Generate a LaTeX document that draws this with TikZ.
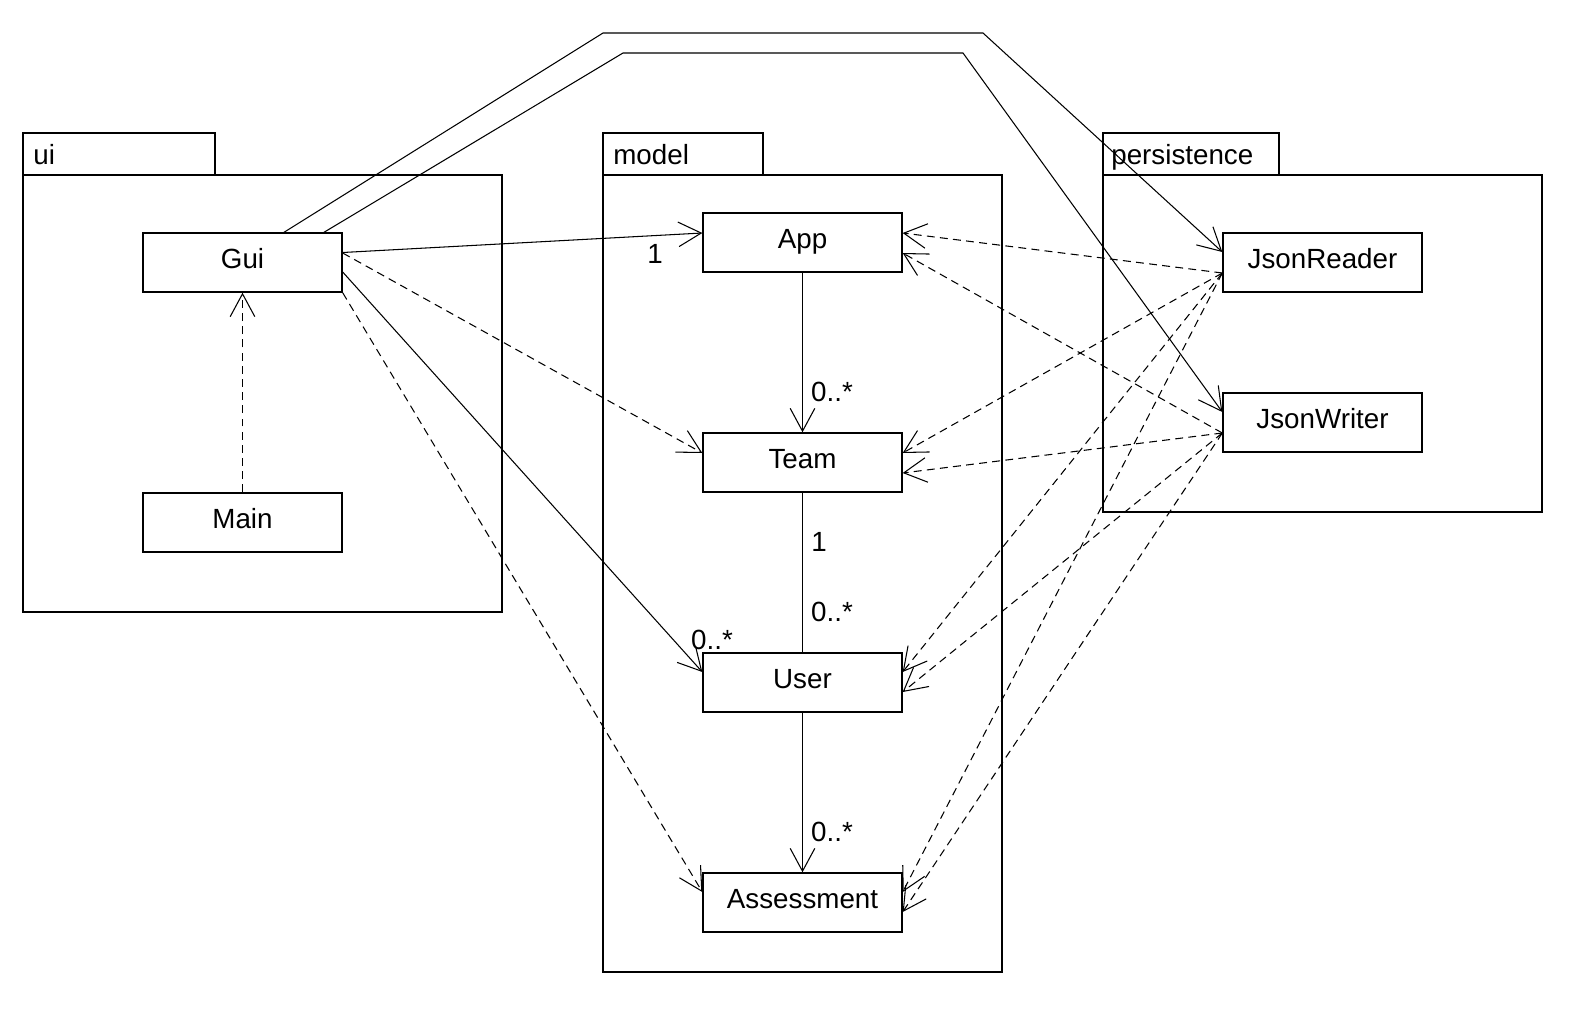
\documentclass[tikz,border=0pt]{standalone}
\usepackage{fontspec}
\setmainfont{Liberation Sans}
\usetikzlibrary{arrows.meta,calc}

\begin{document}
\begin{tikzpicture}[x=0.02cm,y=-0.02cm,
  classe/.style={draw,line width=0.8pt,minimum width=3.98cm,minimum height=1.18cm,inner sep=0pt,text height=11.3pt,text depth=4.6pt,font=\fontsize{15.8}{19}\selectfont},
  paquet/.style={line width=0.8pt},
  titre/.style={anchor=base west,inner sep=0pt,font=\fontsize{15.8}{19}\selectfont},
  mult/.style={inner sep=0pt,font=\fontsize{15.8}{19}\selectfont},
  assoc/.style={line width=0.6pt,-{Straight Barb[length=13pt,width=14pt]}},
  dep/.style={assoc,dash pattern=on 4.5pt off 3pt}]
\useasboundingbox (0,0) rectangle (1576,1011);
% packages
\draw [paquet] (23,133) rectangle (215,175);
\draw [paquet] (23,175) rectangle (502,612);
\node [titre] (ui) at (33,164) {ui};
\draw [paquet] (603,133) rectangle (763,175);
\draw [paquet] (603,175) rectangle (1002,972);
\node [titre] (model) at (613,164) {model};
\draw [paquet] (1103,133) rectangle (1279,175);
\draw [paquet] (1103,175) rectangle (1542,512);
\node [titre] (persistence) at (1111,164) {persistence};
% classes
\node [classe] (Gui) at (242.5,262.5) {Gui};
\node [classe] (Main) at (242.5,522.5) {Main};
\node [classe] (App) at (802.5,242.5) {App};
\node [classe] (Team) at (802.5,462.5) {Team};
\node [classe] (User) at (802.5,682.5) {User};
\node [classe] (Assessment) at (802.5,902.5) {Assessment};
\node [classe] (JsonReader) at (1322.5,262.5) {JsonReader};
\node [classe] (JsonWriter) at (1322.5,422.5) {JsonWriter};
% ui
\draw [dep] (Main.north) -- (Gui.south);
\draw [assoc] ($(Gui.east)+(0,-10)$) -- ($(App.west)+(0,-9.5)$);
\draw [dep] ($(Gui.east)+(0,-9.5)$) -- ($(Team.west)+(0,-9.5)$);
\draw [assoc] ($(Gui.east)+(0,9.5)$) -- ($(User.west)+(0,-10.5)$);
\draw [dep] (Gui.south east) -- ($(Assessment.west)+(0,-10.5)$);
\coordinate (coudeA) at (603,33);
\coordinate (coudeB) at (983,33);
\coordinate (coudeC) at (623,53);
\coordinate (coudeD) at (963,53);
\draw [assoc] ($(Gui.north)+(41.5,0)$) -- (coudeA) -- (coudeB) -- ($(JsonReader.west)+(0,-10.5)$);
\draw [assoc] ($(Gui.north)+(81.5,0)$) -- (coudeC) -- (coudeD) -- ($(JsonWriter.west)+(0,-10.5)$);
% model
\draw [assoc] (App.south) -- (Team.north);
\draw [line width=0.6pt] (Team.south) -- (User.north);
\draw [assoc] (User.south) -- (Assessment.north);
\node [mult] (mGuiApp) at (655,254) {1};
\node [mult] (mAppTeam) at (832,392) {0..*};
\node [mult] (mTeamUser) at (819,542) {1};
\node [mult] (mUserTeam) at (832,612) {0..*};
\node [mult] (mGuiUser) at (712,640) {0..*};
\node [mult] (mUserAss) at (832,832) {0..*};
% persistence
\foreach \cible/\dy in {App/-9.5,Team/-9.5,User/-10.5,Assessment/-10.5}
  \draw [dep] ($(JsonReader.west)+(0,10.5)$) -- ($(\cible.east)+(0,\dy)$);
\foreach \cible/\dy in {App/10.5,Team/10.5,User/9.5,Assessment/9.5}
  \draw [dep] ($(JsonWriter.west)+(0,10.5)$) -- ($(\cible.east)+(0,\dy)$);
\end{tikzpicture}
\end{document}
